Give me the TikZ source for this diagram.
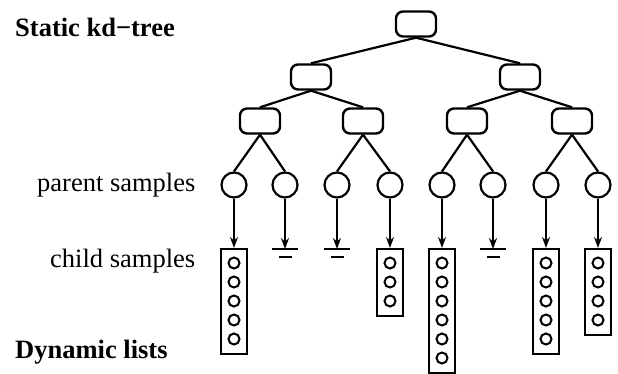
\documentclass[tikz,border=0pt]{standalone}
\usepackage{fontspec}
\setmainfont{Liberation Serif}
\usetikzlibrary{arrows.meta}
\tikzset{
  knode/.style={draw, line width=2.4pt, rounded corners=7pt, minimum width=40pt, minimum height=25pt, inner sep=0pt},
  psample/.style={draw, circle, line width=2.2pt, minimum size=25pt, inner sep=0pt},
  listbox/.style={draw, line width=2pt, minimum width=26pt, inner sep=0pt, anchor=north},
  item/.style={draw, circle, line width=2pt, minimum size=11pt, inner sep=0pt},
  edge/.style={line width=2.2pt},
  arr/.style={line width=1.8pt, -{Stealth[length=11pt,width=8pt]}},
  gnd/.style={line width=2pt},
  lbl/.style={font=\fontsize{26.5pt}{30pt}\selectfont, anchor=base west, inner sep=0pt},
}
\begin{document}
\begin{tikzpicture}[x=1pt,y=-1pt]
\fill[white] (0,0) rectangle (618,374);
\useasboundingbox (0,0) rectangle (618,374);

% labels
\node[lbl, font=\fontsize{26.5pt}{30pt}\selectfont\bfseries] (t1) at (15,37) {Static kd−tree};
\node[lbl] (t2) at (37,192) {parent samples};
\node[lbl] (t3) at (50,267) {child samples};
\node[lbl, font=\fontsize{26.5pt}{30pt}\selectfont\bfseries] (t4) at (15,358) {Dynamic lists};

% kd-tree
\node[knode] (r) at (416,24) {};
\node[knode] (a) at (311,77) {};
\node[knode] (b) at (520,77) {};
\node[knode] (a1) at (260,121) {};
\node[knode] (a2) at (363,121) {};
\node[knode] (b1) at (467,121) {};
\node[knode] (b2) at (572,121) {};

\draw[edge] (r.south) -- (a.north);
\draw[edge] (r.south) -- (b.north);
\draw[edge] (a.south) -- (a1.north);
\draw[edge] (a.south) -- (a2.north);
\draw[edge] (b.south) -- (b1.north);
\draw[edge] (b.south) -- (b2.north);

% parent samples
\foreach \i/\x in {1/234,2/285,3/337,4/390,5/442,6/493,7/546,8/598}
  \node[psample] (p\i) at (\x,185) {};

\draw[edge] (a1.south) -- (p1.north);
\draw[edge] (a1.south) -- (p2.north);
\draw[edge] (a2.south) -- (p3.north);
\draw[edge] (a2.south) -- (p4.north);
\draw[edge] (b1.south) -- (p5.north);
\draw[edge] (b1.south) -- (p6.north);
\draw[edge] (b2.south) -- (p7.north);
\draw[edge] (b2.south) -- (p8.north);

% dynamic lists
\foreach \j/\x/\n in {1/234/5,4/390/3,5/442/6,7/546/5,8/598/4}{
  \pgfmathsetmacro{\h}{19*\n+10}
  \node[listbox, minimum height=\h pt] (L\j) at (\x,248) {};
  \foreach \k in {1,...,\n}{
    \node[item] (L\j-\k) at (\x,{263+19*(\k-1)}) {};
  }
  \draw[arr] (p\j.south) -- (L\j.north);
}

% empty lists (ground symbols)
\foreach \j/\x in {2/285,3/337,6/493}{
  \coordinate (g\j) at (\x,249);
  \draw[arr] (p\j.south) -- (g\j);
  \draw[gnd] ([xshift=-13pt]g\j) -- ([xshift=13pt]g\j);
  \draw[gnd] ([shift={(-6.5,8)}]g\j) -- ([shift={(6.5,8)}]g\j);
}
\end{tikzpicture}
\end{document}
